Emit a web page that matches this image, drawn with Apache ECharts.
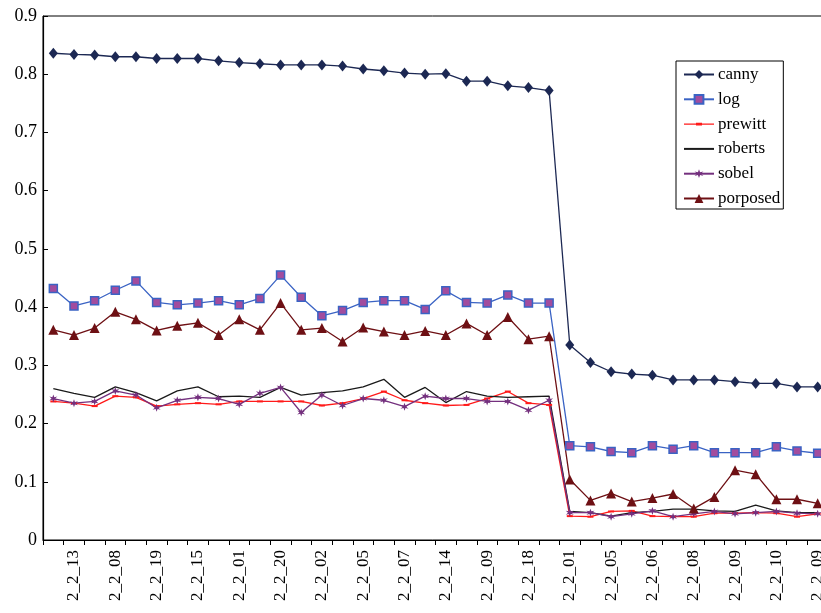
<!DOCTYPE html>
<html>
<head>
<meta charset="utf-8">
<script src="https://cdn.jsdelivr.net/npm/echarts@6/dist/echarts.min.js"></script>
<style>
  html, body { margin: 0; padding: 0; background: #fff; }
  #chart { width: 821px; height: 613px; }
</style>
</head>
<body>
<div id="chart"></div>
<script>
// categories: only the odd ones are labelled on the axis
const categories = [
  '2_2_12', '2_2_13', '2_2_07', '2_2_08', '2_2_18', '2_2_19', '2_2_14', '2_2_15',
  '2_2_21', '2_2_01', '2_2_19', '2_2_20', '2_2_01', '2_2_02', '2_2_04', '2_2_05',
  '2_2_06', '2_2_07', '2_2_13', '2_2_14', '2_2_08', '2_2_09', '2_2_17', '2_2_18',
  '2_2_19', '2_2_01', '2_2_04', '2_2_05', '2_2_05', '2_2_06', '2_2_07', '2_2_08',
  '2_2_08', '2_2_09', '2_2_09', '2_2_10', '2_2_08', '2_2_09'
];

const canny = [
  0.836, 0.834, 0.833, 0.830, 0.830, 0.827, 0.827, 0.827, 0.823, 0.820,
  0.818, 0.816, 0.816, 0.816, 0.814, 0.809, 0.806, 0.802, 0.800, 0.801,
  0.788, 0.788, 0.780, 0.777, 0.772,
  0.335, 0.305, 0.289, 0.285, 0.283, 0.275, 0.275, 0.275, 0.272, 0.269,
  0.269, 0.263, 0.263
];
const log = [
  0.432, 0.402, 0.411, 0.429, 0.445, 0.408, 0.404, 0.407, 0.411, 0.404,
  0.415, 0.455, 0.417, 0.385, 0.394, 0.408, 0.411, 0.411, 0.396, 0.428,
  0.408, 0.407, 0.421, 0.407, 0.407,
  0.162, 0.160, 0.152, 0.150, 0.162, 0.156, 0.162, 0.150, 0.150, 0.150,
  0.160, 0.153, 0.149
];
const prewitt = [
  0.238, 0.235, 0.230, 0.247, 0.245, 0.230, 0.233, 0.235, 0.233, 0.238,
  0.238, 0.238, 0.238, 0.231, 0.235, 0.243, 0.255, 0.240, 0.235, 0.231,
  0.232, 0.243, 0.255, 0.235, 0.232,
  0.041, 0.040, 0.049, 0.050, 0.041, 0.040, 0.040, 0.046, 0.046, 0.047,
  0.046, 0.040, 0.045
];
const roberts = [
  0.260, 0.252, 0.245, 0.263, 0.253, 0.239, 0.256, 0.263, 0.246, 0.247,
  0.245, 0.262, 0.249, 0.253, 0.256, 0.263, 0.276, 0.245, 0.262, 0.236,
  0.255, 0.247, 0.245, 0.246, 0.247,
  0.049, 0.047, 0.041, 0.047, 0.049, 0.053, 0.053, 0.050, 0.049, 0.060,
  0.050, 0.047, 0.047
];
const sobel = [
  0.243, 0.235, 0.238, 0.256, 0.249, 0.227, 0.240, 0.245, 0.243, 0.233,
  0.252, 0.262, 0.219, 0.249, 0.231, 0.243, 0.240, 0.229, 0.247, 0.243,
  0.243, 0.238, 0.238, 0.223, 0.240,
  0.047, 0.047, 0.040, 0.045, 0.050, 0.040, 0.045, 0.049, 0.045, 0.047,
  0.049, 0.046, 0.045
];
const porposed = [
  0.361, 0.352, 0.364, 0.392, 0.379, 0.360, 0.368, 0.373, 0.352, 0.379,
  0.361, 0.407, 0.361, 0.364, 0.341, 0.365, 0.358, 0.352, 0.359, 0.352,
  0.372, 0.352, 0.383, 0.345, 0.350,
  0.104, 0.068, 0.080, 0.066, 0.072, 0.079, 0.054, 0.074, 0.120, 0.113,
  0.070, 0.070, 0.063
];

const yTicks = [0, 0.1, 0.2, 0.3, 0.4, 0.5, 0.6, 0.7, 0.8, 0.9];

const SERIF = '"Liberation Serif", "DejaVu Serif", serif';
const STAR = 'path://M0,-10L2.2,-3.2L9,-5L4,0L9,5L2.2,3.2L0,10L-2.2,3.2L-9,5L-4,0L-9,-5L-2.2,-3.2Z';
// legend icon for prewitt: thin line with a small dash in the middle
const DASH_LINE = 'path://M0,5L12,5L12,4.3L18,4.3L18,5L30,5L30,6.3L18,6.3L18,7L12,7L12,6.3L0,6.3Z';

function lineSeries(name, data, color, symbol, symbolSize, itemStyle) {
  return {
    name: name,
    type: 'line',
    data: data,
    symbol: symbol,
    symbolSize: symbolSize,
    showSymbol: symbol !== 'none',
    animation: false,
    lineStyle: { color: color, width: 1.3 },
    itemStyle: Object.assign({ color: color, opacity: 1 }, itemStyle || {}),
    emphasis: { disabled: true },
  };
}

const chart = echarts.init(document.getElementById('chart'));
chart.setOption({
  backgroundColor: '#fff',
  animation: false,
  legend: {
    orient: 'vertical',
    left: 676,
    top: 61,
    padding: [5, 3, 2, 7],
    itemWidth: 30,
    itemHeight: 11,
    itemGap: 7.8,
    borderColor: '#000',
    borderWidth: 1,
    textStyle: { fontFamily: SERIF, fontSize: 17, color: '#000', padding: [0, 0, 0, -1] },
    data: [
      'canny',
      'log',
      { name: 'prewitt', icon: DASH_LINE },
      { name: 'roberts', itemStyle: { opacity: 0 } },
      'sobel',
      'porposed',
    ],
  },
  // plot runs past the right edge of the picture, like the cropped original
  grid: {
    left: 43, width: 785, top: 16, bottom: 73,
    outerBoundsMode: 'none',
    show: true, borderColor: '#000', borderWidth: 1,
  },
  xAxis: {
    type: 'category',
    data: categories,
    boundaryGap: true,
    axisLine: { lineStyle: { color: '#000', width: 1.2 } },
    axisTick: { show: true, interval: 0, length: 5, lineStyle: { color: '#000' } },
    axisLabel: {
      interval: function (i) { return i % 2 === 1; },
      rotate: 90,
      margin: 10,
      fontFamily: SERIF,
      fontSize: 17,
      color: '#000',
    },
    splitLine: { show: false },
  },
  yAxis: {
    type: 'value',
    min: yTicks[0],
    max: yTicks[yTicks.length - 1],
    interval: 0.1,
    axisLine: { show: true, lineStyle: { color: '#000', width: 1.2 } },
    axisTick: { show: true, inside: true, length: 5, lineStyle: { color: '#000' } },
    axisLabel: {
      margin: 6,
      fontFamily: SERIF,
      fontSize: 18,
      color: '#000',
      formatter: function (v) { return String(Math.round(v * 10) / 10); },
    },
    splitLine: { show: false },
  },
  series: [
    lineSeries('canny', canny, '#1c2853', 'diamond', [9, 11]),
    lineSeries('log', log, '#3a63c4', 'rect', 8, { color: '#a24c9e', borderColor: '#3a63c4', borderWidth: 1.5 }),
    lineSeries('prewitt', prewitt, '#ff1a1a', 'rect', [6, 2]),
    lineSeries('roberts', roberts, '#1a1a1a', 'none', 0),
    lineSeries('sobel', sobel, '#74307e', STAR, 8),
    lineSeries('porposed', porposed, '#6e1014', 'triangle', 10),
  ],
});
</script>
</body>
</html>
